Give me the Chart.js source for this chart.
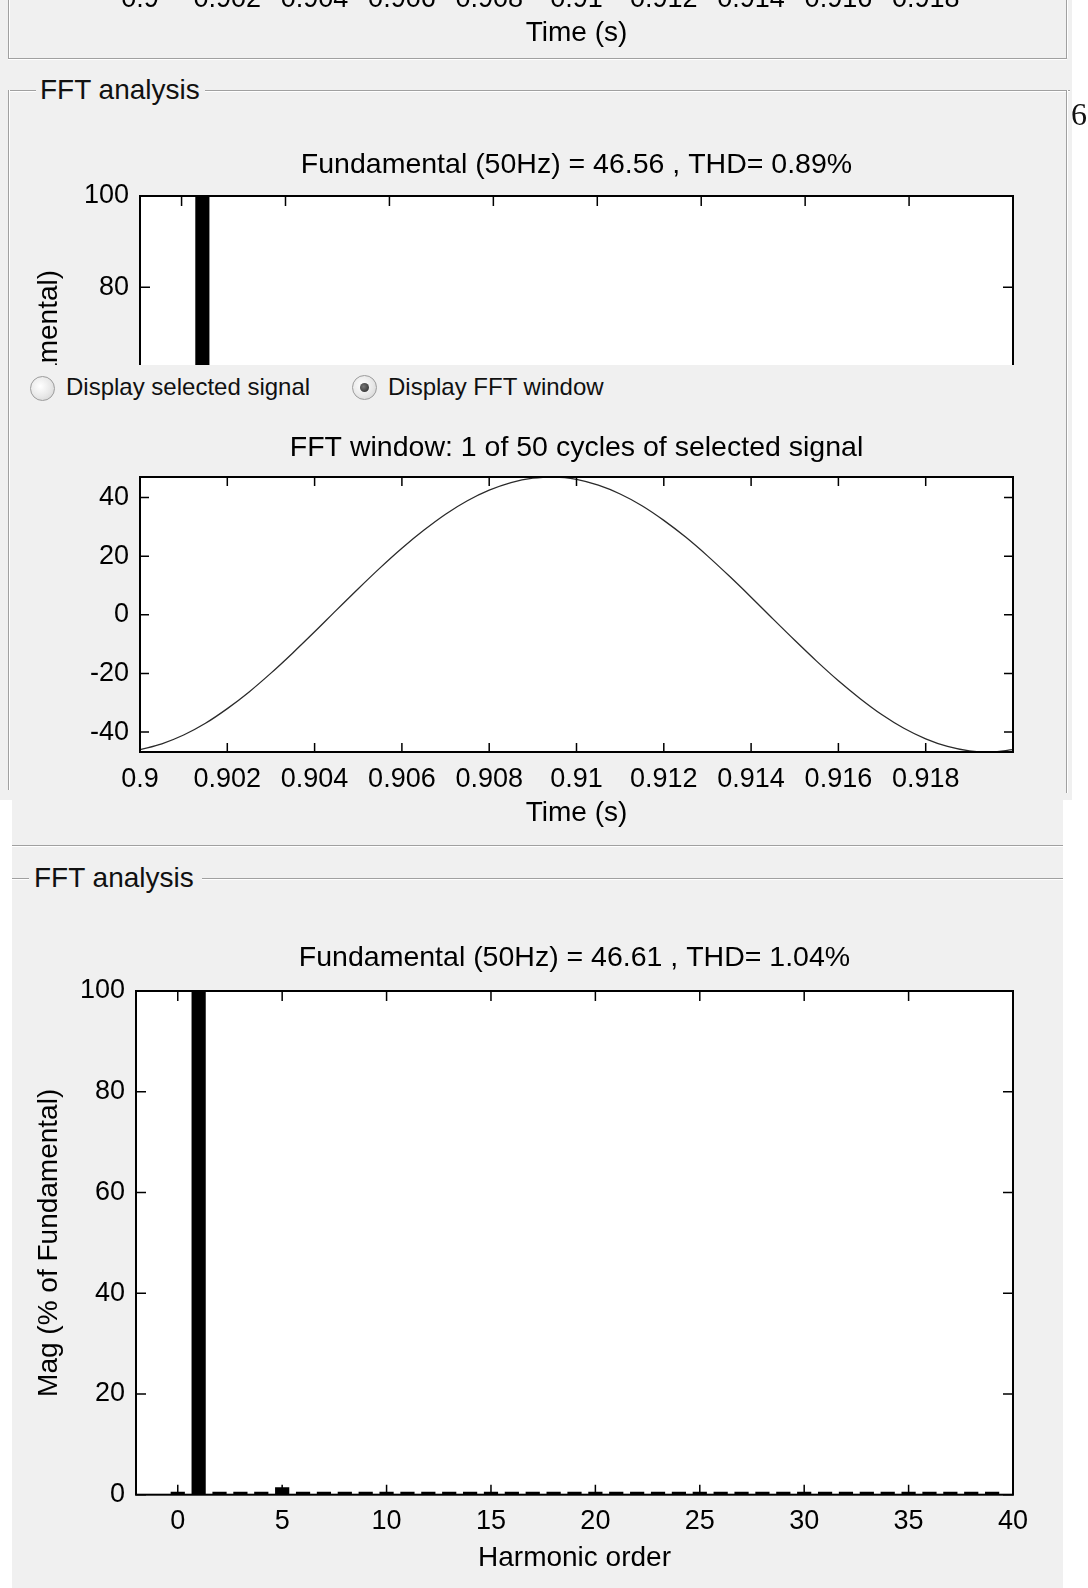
<!DOCTYPE html>
<html>
<head>
<meta charset="utf-8">
<title>FFT analysis</title>
<script src="https://cdn.jsdelivr.net/npm/chart.js@4.4.1/dist/chart.umd.min.js"></script>
<style>
  body { margin: 0; background: #fff; }
  #page { position: relative; width: 1088px; height: 1588px; overflow: hidden;
          font-family: "Liberation Sans", Arial, sans-serif; color: #111; }
  .gray { position: absolute; background: #f0f0f0; }
  .hl { position: absolute; height: 1px; background: #a0a0a0; border-bottom: 1px solid #fff; }
  .vl { position: absolute; width: 1px; background: #a0a0a0; border-right: 1px solid #fff; }
  .legend { position: absolute; font-size: 28px; line-height: 1; white-space: nowrap; }
  .radio { position: absolute; width: 25px; height: 25px; border-radius: 50%; box-sizing: border-box;
           border: 1px solid #9c9c9c;
           background: radial-gradient(circle at 40% 40%, #ffffff 0%, #e8e8e8 55%, #cdcdcd 100%); }
  .radio.on::after { content: ""; position: absolute; left: 7px; top: 7px; width: 9px; height: 9px;
                     border-radius: 50%; background: radial-gradient(circle at 40% 40%, #777, #222); }
  .rlabel { position: absolute; font-size: 24px; line-height: 1; white-space: nowrap; }
  .chartbox { position: absolute; left: 0; width: 1088px; overflow: hidden; }
  .chartbox canvas { display: block; }
  .stray { position: absolute; font-family: "Liberation Serif", "Times New Roman", serif;
           font-size: 32px; line-height: 1; color: #111; }
</style>
</head>
<body>
<div id="page">
  <!-- window backgrounds -->
  <div class="gray" style="left:0;top:0;width:1072px;height:800px"></div>
  <div class="gray" style="left:12px;top:800px;width:1051px;height:788px"></div>

  <!-- signal panel (top, cut off) -->
  <div class="vl" style="left:8px;top:0;height:58px"></div>
  <div class="vl" style="left:1066px;top:0;height:58px"></div>
  <div class="hl" style="left:8px;top:58px;width:1059px"></div>

  <!-- FFT analysis group box -->
  <div class="hl" style="left:8px;top:90px;width:28px"></div>
  <div class="hl" style="left:205px;top:90px;width:865px"></div>
  <div class="vl" style="left:8px;top:90px;height:700px"></div>
  <div class="vl" style="left:1066px;top:90px;height:703px"></div>
  <div class="legend" style="left:40px;top:76px">FFT analysis</div>

  <!-- radio buttons -->
  <div class="radio" style="left:30px;top:376px"></div>
  <div class="rlabel" style="left:66px;top:375px">Display selected signal</div>
  <div class="radio on" style="left:352px;top:375px"></div>
  <div class="rlabel" style="left:388px;top:375px">Display FFT window</div>

  <!-- lower window -->
  <div class="hl" style="left:12px;top:845px;width:1051px"></div>
  <div class="hl" style="left:12px;top:878px;width:17px"></div>
  <div class="hl" style="left:202px;top:878px;width:861px"></div>
  <div class="legend" style="left:34px;top:864px">FFT analysis</div>

  <div class="chartbox" style="top:-370px;height:420px"><canvas id="sigTop" width="1088" height="420"></canvas></div>
  <div class="chartbox" style="top:100px;height:265px"><canvas id="fftTop" width="1088" height="600"></canvas></div>
  <div class="chartbox" style="top:410px;height:420px"><canvas id="sigWin" width="1088" height="420"></canvas></div>
  <div class="chartbox" style="top:900px;height:688px"><canvas id="fftBottom" width="1088" height="688"></canvas></div>

  <div class="stray" style="left:1071px;top:98px">6</div>
</div>

<script>
const FONT = '"Liberation Sans", Arial, sans-serif';

// harmonic spectra (% of fundamental)
const harmonicOrder = [0, 1, 2, 3, 4, 5, 6, 7, 8, 9, 10, 11, 12, 13, 14, 15, 16, 17, 18, 19, 20,
  21, 22, 23, 24, 25, 26, 27, 28, 29, 30, 31, 32, 33, 34, 35, 36, 37, 38, 39, 40];
const magSelected = [0.6, 100, 0.6, 0.6, 0.6, 1.2, 0.6, 0.6, 0.6, 0.6, 0.6, 0.6, 0.6, 0.6, 0.6, 0.6,
  0.6, 0.6, 0.6, 0.6, 0.6, 0.6, 0.6, 0.6, 0.6, 0.6, 0.6, 0.6, 0.6, 0.6, 0.6, 0.6, 0.6, 0.6, 0.6,
  0.6, 0.6, 0.6, 0.6, 0.6, 0];
const magWindow = [0.6, 100, 0.6, 0.6, 0.6, 1.5, 0.6, 0.6, 0.6, 0.6, 0.6, 0.6, 0.6, 0.6, 0.6, 0.6,
  0.6, 0.6, 0.6, 0.6, 0.6, 0.6, 0.6, 0.6, 0.6, 0.6, 0.6, 0.6, 0.6, 0.6, 0.6, 0.6, 0.6, 0.6, 0.6,
  0.6, 0.6, 0.6, 0.6, 0.6, 0];
const harmonicTicks = [0, 5, 10, 15, 20, 25, 30, 35, 40];
const magTicks = [0, 20, 40, 60, 80, 100];

// FFT window: one cycle of the selected signal
const timeS = [0.9, 0.9005, 0.901, 0.9015, 0.902, 0.9025, 0.903, 0.9035, 0.904, 0.9045,
  0.905, 0.9055, 0.906, 0.9065, 0.907, 0.9075, 0.908, 0.9085, 0.909, 0.9095,
  0.91, 0.9105, 0.911, 0.9115, 0.912, 0.9125, 0.913, 0.9135, 0.914, 0.9145,
  0.915, 0.9155, 0.916, 0.9165, 0.917, 0.9175, 0.918, 0.9185, 0.919, 0.9195, 0.92];
const signalV = [-46.0, -44.0, -41.0, -37.0, -32.0, -26.3, -19.9, -13.0, -5.8, 1.6,
  8.9, 16.0, 22.7, 28.8, 34.3, 38.9, 42.5, 45.1, 46.6, 47.0,
  46.2, 44.2, 41.2, 37.2, 32.2, 26.5, 20.1, 13.2, 6.0, -1.4,
  -8.7, -15.8, -22.5, -28.6, -34.1, -38.7, -42.3, -44.9, -46.4, -46.8, -46.0];
const timeTicks = [0.9, 0.902, 0.904, 0.906, 0.908, 0.91, 0.912, 0.914, 0.916, 0.918];
const timeTickLabels = ['0.9', '0.902', '0.904', '0.906', '0.908', '0.91', '0.912', '0.914', '0.916', '0.918'];
const signalTicks = [-40, -20, 0, 20, 40];

Chart.defaults.font.family = FONT;
Chart.defaults.color = '#000';

// white axes box with inward ticks on all four sides, like MATLAB
const matlabAxes = {
  id: 'matlabAxes',
  beforeDatasetsDraw(chart) {
    const { ctx, chartArea: a } = chart;
    ctx.save();
    ctx.fillStyle = '#fff';
    ctx.fillRect(a.left, a.top, a.width, a.height);
    ctx.restore();
  },
  afterDatasetsDraw(chart, args, opts) {
    const { ctx, chartArea: a, scales: { x, y } } = chart;
    const len = opts.tickLength || 9;
    ctx.save();
    ctx.strokeStyle = '#000';
    ctx.lineWidth = 1.5;
    ctx.beginPath();
    x.ticks.forEach(t => {
      const px = x.getPixelForValue(t.value);
      ctx.moveTo(px, a.bottom); ctx.lineTo(px, a.bottom - len);
      ctx.moveTo(px, a.top); ctx.lineTo(px, a.top + len);
    });
    y.ticks.forEach(t => {
      const py = y.getPixelForValue(t.value);
      ctx.moveTo(a.left, py); ctx.lineTo(a.left + len, py);
      ctx.moveTo(a.right, py); ctx.lineTo(a.right - len, py);
    });
    ctx.stroke();
    ctx.lineWidth = 2;
    ctx.strokeRect(a.left, a.top, a.right - a.left, a.bottom - a.top);
    ctx.restore();
  }
};

function baseOptions(p) {
  return {
    responsive: false,
    animation: false,
    devicePixelRatio: 1,
    layout: { padding: { top: p.padTop, left: 0, right: 75, bottom: 0 } },
    plugins: {
      legend: { display: false },
      tooltip: { enabled: false },
      title: {
        display: true,
        text: p.title,
        fullSize: false,
        font: { size: 28.5, weight: 'normal' },
        padding: { top: 0, bottom: p.titleGap }
      },
      matlabAxes: { tickLength: p.tickLength }
    }
  };
}

function harmonicChart(id, values, p) {
  const opts = baseOptions(p);
  opts.scales = {
    x: {
      type: 'linear', min: -2, max: 40, offset: false,
      grid: { display: false, drawTicks: false },
      border: { display: false },
      ticks: { font: { size: 27 }, padding: p.tickPad, maxRotation: 0, minRotation: 0, autoSkip: false },
      afterBuildTicks: s => { s.ticks = harmonicTicks.map(v => ({ value: v })); },
      afterFit: s => { s.height = p.xHeight; },
      title: { display: p.xTitle, text: 'Harmonic order', font: { size: 28 }, padding: { top: 0, bottom: 12.5 } }
    },
    y: {
      min: 0, max: 100,
      grid: { display: false, drawTicks: false },
      border: { display: false },
      ticks: { font: { size: 27 }, padding: 11 },
      afterBuildTicks: s => { s.ticks = magTicks.map(v => ({ value: v })); },
      afterFit: s => { s.width = p.yWidth; },
      title: { display: true, text: 'Mag (% of Fundamental)', font: { size: 28 }, padding: { top: 32.2, bottom: 0 } }
    }
  };
  return new Chart(document.getElementById(id), {
    type: 'bar',
    data: {
      datasets: [{
        data: harmonicOrder.map((h, i) => ({ x: h, y: values[i] })),
        backgroundColor: '#000',
        borderWidth: 0,
        barPercentage: 0.85,
        categoryPercentage: 0.8
      }]
    },
    options: opts,
    plugins: [matlabAxes]
  });
}

function signalChart(id) {
  const opts = baseOptions({ padTop: 21.5, titleGap: 11.3, tickLength: 9,
    title: 'FFT window: 1 of 50 cycles of selected signal' });
  opts.scales = {
    x: {
      type: 'linear', min: 0.9, max: 0.92,
      grid: { display: false, drawTicks: false },
      border: { display: false },
      ticks: { font: { size: 27 }, padding: 11.5, maxRotation: 0, minRotation: 0, autoSkip: false,
               callback: (v, i) => timeTickLabels[i] },
      afterBuildTicks: s => { s.ticks = timeTicks.map(v => ({ value: v })); },
      afterFit: s => { s.height = 78; },
      title: { display: true, text: 'Time (s)', font: { size: 28 }, padding: { top: 0, bottom: 0 } }
    },
    y: {
      min: -46.8, max: 47,
      grid: { display: false, drawTicks: false },
      border: { display: false },
      ticks: { font: { size: 27 }, padding: 11 },
      afterBuildTicks: s => { s.ticks = signalTicks.map(v => ({ value: v })); },
      afterFit: s => { s.width = 140; }
    }
  };
  return new Chart(document.getElementById(id), {
    type: 'line',
    data: {
      datasets: [{
        data: timeS.map((t, i) => ({ x: t, y: signalV[i] })),
        borderColor: '#2a2a2a',
        borderWidth: 1.3,
        pointRadius: 0,
        cubicInterpolationMode: 'monotone'
      }]
    },
    options: opts,
    plugins: [matlabAxes]
  });
}

signalChart('sigTop');
signalChart('sigWin');

harmonicChart('fftTop', magSelected, {
  title: 'Fundamental (50Hz) = 46.56 , THD= 0.89%',
  padTop: 48.5, titleGap: 13.3, tickLength: 10,
  yWidth: 140, xHeight: 48, tickPad: 9, xTitle: false
});

harmonicChart('fftBottom', magWindow, {
  title: 'Fundamental (50Hz) = 46.61 , THD= 1.04%',
  padTop: 41.5, titleGap: 15.3, tickLength: 10,
  yWidth: 136, xHeight: 93.3, tickPad: 11, xTitle: true
});
</script>
</body>
</html>
